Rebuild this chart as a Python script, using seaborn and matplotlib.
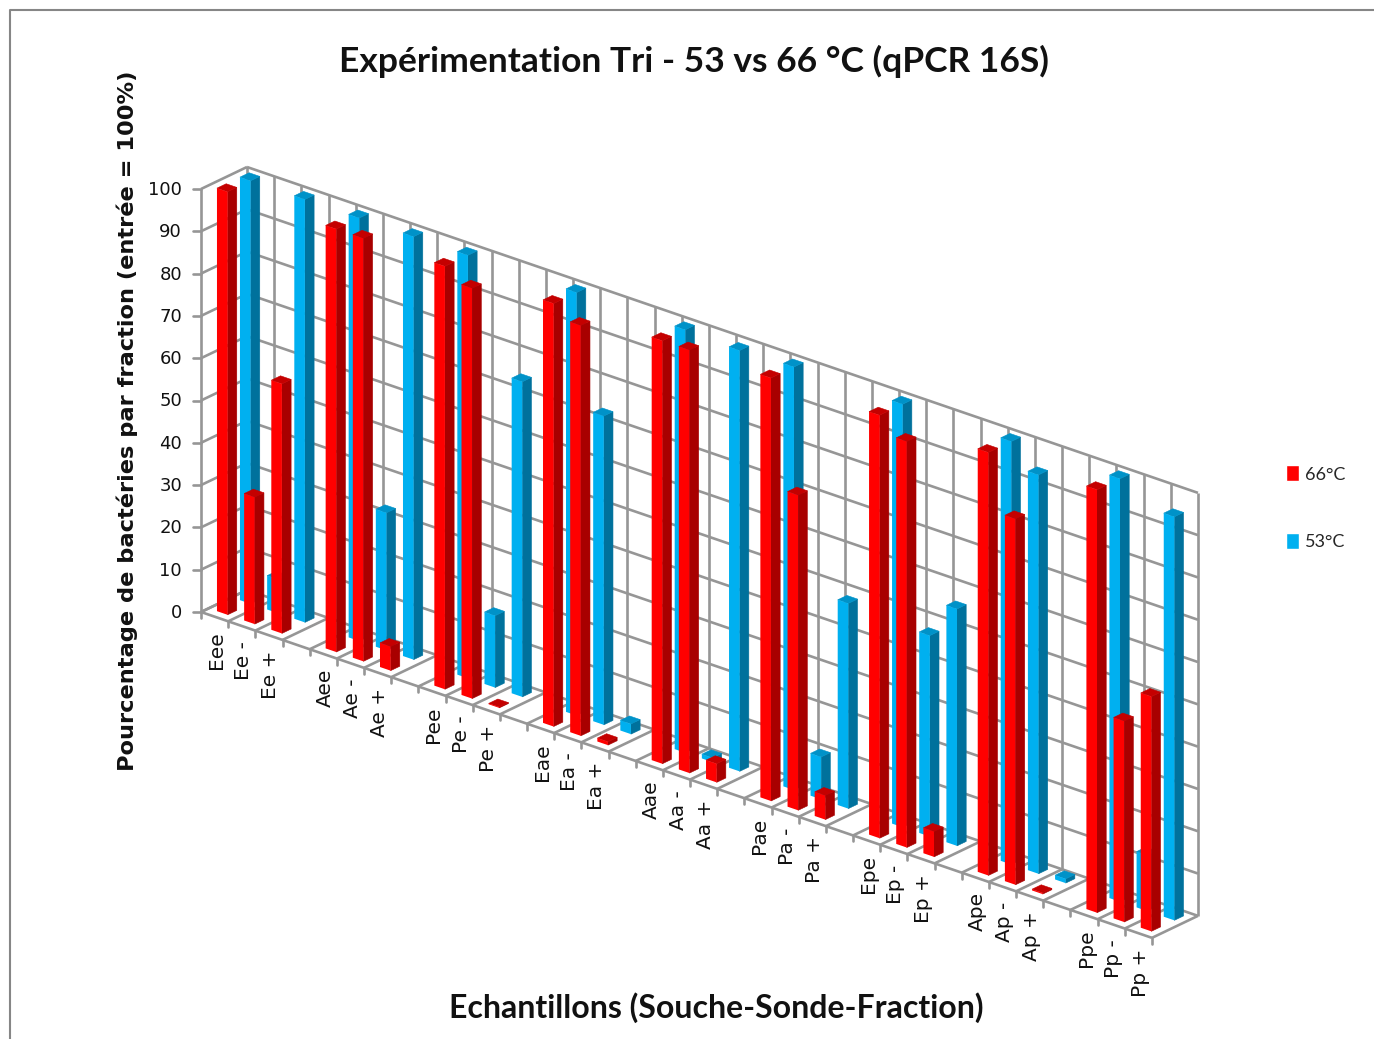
import matplotlib
matplotlib.use('Agg')
import matplotlib.pyplot as plt
from matplotlib.lines import Line2D
from matplotlib.patches import Patch, Polygon
from matplotlib.transforms import Affine2D, IdentityTransform
import numpy as np
import seaborn as sns

# valeurs (un trou entre chaque groupe de 3)
labels = ['Eee', 'Ee -', 'Ee +', 'Aee', 'Ae -', 'Ae +', 'Pee', 'Pe -', 'Pe +',
          'Eae', 'Ea -', 'Ea +', 'Aae', 'Aa -', 'Aa +', 'Pae', 'Pa -', 'Pa +',
          'Epe', 'Ep -', 'Ep +', 'Ape', 'Ap -', 'Ap +', 'Ppe', 'Pp -', 'Pp +']
val_66 = [100, 30, 59, 100, 100, 5.7, 100, 97, 0.2,
          100, 97, 0.8, 100, 100, 4.4, 100, 74.5, 5.7,
          100, 96, 6, 100, 86.5, 0.3, 100, 47.5, 55.5]
val_53 = [100, 8, 100, 100, 32.5, 100, 100, 17, 74.5,
          100, 73, 2.4, 100, 1, 99.5, 100, 10, 48.5,
          100, 47.5, 56, 100, 94.3, 1, 100, 13.2, 95.4]
yticks = [0, 10, 20, 30, 40, 50, 60, 70, 80, 90, 100]
n_slots = 35

W, H = 1374, 1039
GRID = '#969696'
GRID_LW = 1.9
RED = ('#ff0000', '#a80000', '#c40000')
BLUE = ('#00b0f0', '#00719c', '#0092c8')
BAR_W = 0.39
BAR_D = 0.2

# projection oblique type Excel 3D : categorie, valeur, profondeur -> pixels
def project(c, v, d):
    c, v, d = np.asarray(c, float), np.asarray(v, float), np.asarray(d, float)
    px = 201 + 27.17 * c + 46 * d
    py = 612 + 9.31 * c - 4.23 * v - 22 * d
    return np.column_stack([px, H - py * np.ones_like(px)])

def depth_transform(d):
    o = project([0], [0], [d])[0]
    return Affine2D(np.array([[27.17, 0, o[0]], [-9.31, 4.23, o[1]], [0, 0, 1]]))

def line(ax, c, v, d, **kw):
    pts = project(c, v, d)
    ax.plot(pts[:, 0], pts[:, 1], color=GRID, lw=GRID_LW, transform=IdentityTransform(),
            clip_on=False, zorder=1, solid_capstyle='butt', **kw)

def draw_row(ax, pos, values, colors, d0, z):
    n0 = len(ax.patches)
    sns.barplot(x=pos, y=values, native_scale=True, color=colors[0], saturation=1,
                width=BAR_W, errorbar=None, ax=ax)
    for bar in list(ax.patches[n0:]):
        x0 = bar.get_x()
        x1 = x0 + bar.get_width()
        v = bar.get_height()
        bar.set_transform(depth_transform(d0))
        bar.set_clip_on(False)
        bar.set_linewidth(0)
        bar.set_zorder(z + 0.1)
        d1 = d0 + BAR_D
        side = project([x1, x1, x1, x1], [0, v, v, 0], [d0, d0, d1, d1])
        top = project([x0, x1, x1, x0], [v, v, v, v], [d0, d0, d1, d1])
        for pts, col in ((side, colors[1]), (top, colors[2])):
            ax.add_patch(Polygon(pts, closed=True, fc=col, ec=col, lw=0.4, zorder=z,
                                 transform=IdentityTransform(), clip_on=False))

sns.set_theme(style='white')
plt.rcParams['font.family'] = ['DejaVu Sans']

fig = plt.figure(figsize=(W / 100, H / 100), dpi=100, facecolor='white')
ax = fig.add_axes([0, 0, 1, 1])
ax.axis('off')

# cadre du graphique
fig.add_artist(Line2D([10, 10, W], [0, H - 10, H - 10], color='#868686', lw=1.5,
                      transform=IdentityTransform()))

# murs et plancher
for v in yticks:
    line(ax, [0, n_slots], [v, v], [1, 1])
    line(ax, [0, 0], [v, v], [0, 1])
    p = project([0], [v], [0])[0]
    ax.plot([p[0] - 8, p[0]], [p[1], p[1]], color=GRID, lw=GRID_LW,
            transform=IdentityTransform(), clip_on=False, zorder=1)
    ax.text(p[0] - 19, p[1] - 1, str(v), ha='right', va='center', fontsize=13,
            color='#111111', transform=IdentityTransform())
for c in range(n_slots + 1):
    line(ax, [c, c], [0, 100], [1, 1])
    line(ax, [c, c], [0, 0], [0, 1])
    p = project([c], [0], [0])[0]
    ax.plot([p[0], p[0]], [p[1], p[1] - 6], color=GRID, lw=GRID_LW,
            transform=IdentityTransform(), clip_on=False, zorder=1)
line(ax, [0, n_slots], [0, 0], [0, 0])
line(ax, [0, 0], [0, 100], [0, 0])

# barres : rangee arriere (53) puis rangee avant (66)
pos = np.array([4 * (i // 3) + i % 3 + 0.5 for i in range(len(labels))])
draw_row(ax, pos, val_53, BLUE, 0.667, 3)
draw_row(ax, pos, val_66, RED, 0.167, 4)

for x, lab in zip(pos, labels):
    p = project([x], [0], [0])[0]
    ax.text(p[0] + 2, p[1] - 15, lab, rotation=90, ha='center', va='top', fontsize=14.5,
            color='#111111', transform=IdentityTransform())

ax.text(694, H - 61, 'Expérimentation Tri - 53 vs 66 °C (qPCR 16S)', family='Lato',
        fontweight='bold', fontsize=25.5, ha='center', va='center', color='#111111',
        transform=IdentityTransform())
ax.text(716, H - 1008, 'Echantillons (Souche-Sonde-Fraction)', family='Lato',
        fontweight='bold', fontsize=23, ha='center', va='center', color='#111111',
        transform=IdentityTransform())
ax.text(127, H - 421, 'Pourcentage de bactéries par fraction (entrée = 100%)',
        fontweight='bold', fontsize=16.2, rotation=90, ha='center', va='center',
        color='#111111', transform=IdentityTransform())

handles = [Patch(fc=RED[0], label='66°C'), Patch(fc=BLUE[0], label='53°C')]
ax.legend(handles=handles, loc='upper left', frameon=False, bbox_to_anchor=(1270 / W, 1 - 449 / H),
          bbox_transform=fig.transFigure, prop={'family': 'Lato', 'size': 13},
          handlelength=0.7, handleheight=1.0, handletextpad=0.35, labelspacing=2.8)

plt.savefig('out.png', dpi=100)
plt.close()
